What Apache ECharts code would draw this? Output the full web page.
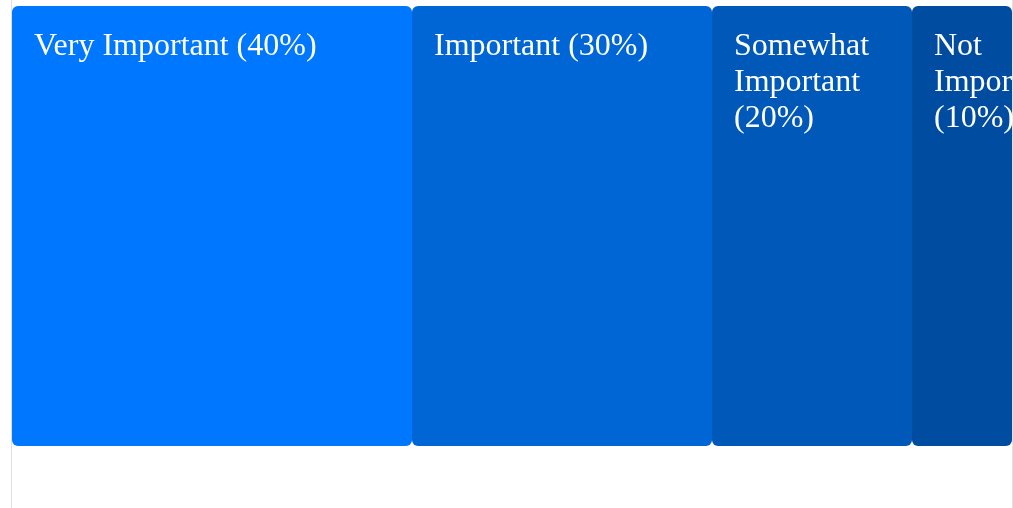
<!DOCTYPE html>
<html>
<head>
<meta charset="utf-8">
<title>Importance rating</title>
<script src="https://cdn.jsdelivr.net/npm/echarts@6/dist/echarts.min.js"></script>
<style>
    html, body { margin: 0; padding: 0; background: #fff; }
    #chart { width: 1013px; height: 508px; }
</style>
</head>
<body>
<div id="chart"></div>
<script>
// data
var categories = ['Very Important', 'Important', 'Somewhat Important', 'Not Important'];
var shares = [40, 30, 20, 10];

// styles
var palette = ['#0077ff', '#0066d6', '#0058b8', '#004ca0'];
var labelWidths = [330, 260, 170, 140];

var chart = echarts.init(document.getElementById('chart'));

var series = categories.map(function (name, i) {
    return {
        name: name,
        type: 'bar',
        stack: 'total',
        barWidth: '100%',
        data: [shares[i]],
        itemStyle: {
            color: palette[i],
            borderRadius: 6
        },
        label: {
            show: true,
            position: 'insideTopLeft',
            distance: 0,
            offset: [22, 23],
            formatter: function (p) {
                return p.seriesName + ' (' + p.value + '%)';
            },
            color: '#fff',
            fontFamily: '"Liberation Serif", "Times New Roman", serif',
            fontSize: 32,
            lineHeight: 36,
            width: labelWidths[i],
            overflow: 'break',
            textBorderWidth: 0
        },
        emphasis: { disabled: true }
    };
});

chart.setOption({
    animation: false,
    grid: { left: 12, right: 1, top: 6, bottom: 62 },
    xAxis: { type: 'value', min: 0, max: 100, show: false },
    yAxis: { type: 'category', data: ['Importance'], show: false },
    graphic: [{
        type: 'line',
        z: -1,
        shape: { x1: 11.5, y1: 0, x2: 11.5, y2: 508 },
        style: { stroke: '#e0e0e0', lineWidth: 1 }
    }, {
        type: 'line',
        z: -1,
        shape: { x1: 1012.5, y1: 0, x2: 1012.5, y2: 508 },
        style: { stroke: '#e0e0e0', lineWidth: 1 }
    }],
    series: series
});
</script>
</body>
</html>
